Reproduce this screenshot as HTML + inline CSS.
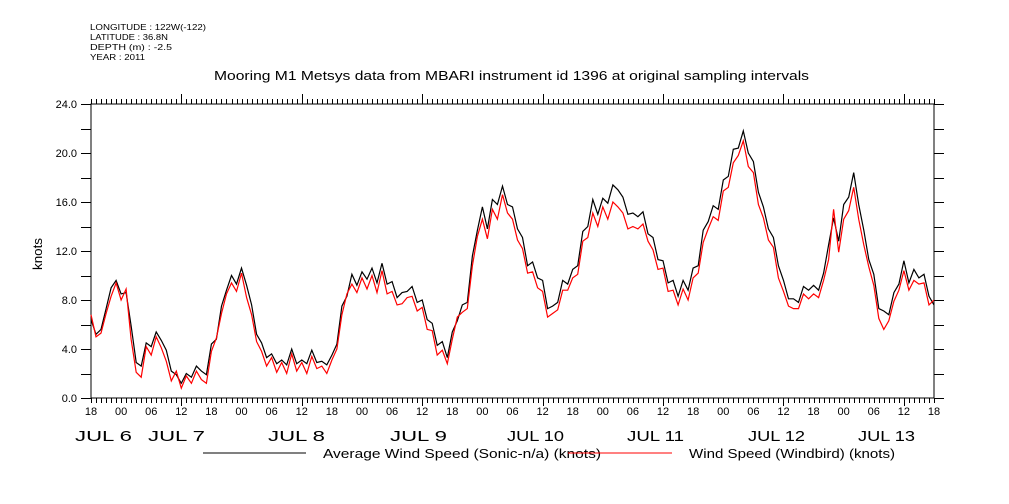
<!DOCTYPE html>
<html><head><meta charset="utf-8"><style>
html,body{margin:0;padding:0;background:#fff;}
svg{display:block;font-family:"Liberation Sans",sans-serif;}
</style></head><body>
<svg id="chart" width="1009" height="504" viewBox="0 0 1009 504" xmlns="http://www.w3.org/2000/svg">
<g font-size="8.5" fill="#000">
<text x="90" y="30" textLength="116" lengthAdjust="spacingAndGlyphs">LONGITUDE : 122W(-122)</text>
<text x="90" y="40" textLength="78" lengthAdjust="spacingAndGlyphs">LATITUDE : 36.8N</text>
<text x="90" y="50" textLength="82" lengthAdjust="spacingAndGlyphs">DEPTH (m) : -2.5</text>
<text x="90" y="60" textLength="55" lengthAdjust="spacingAndGlyphs">YEAR : 2011</text>
</g>
<text x="214" y="80" font-size="13" textLength="595" lengthAdjust="spacingAndGlyphs">Mooring M1 Metsys data from MBARI instrument id 1396 at original sampling intervals</text>
<text x="0" y="0" font-size="13" transform="translate(42,270) rotate(-90)" textLength="32" lengthAdjust="spacingAndGlyphs">knots</text>
<g id="axes"></g>
<g id="series"></g>
<g>
<line x1="203" y1="453" x2="306" y2="453" stroke="#000" stroke-width="1"/>
<text x="323" y="458" font-size="13" textLength="278" lengthAdjust="spacingAndGlyphs">Average Wind Speed (Sonic-n/a) (knots)</text>
<line x1="568" y1="453" x2="672" y2="453" stroke="#f00" stroke-width="1"/>
<text x="689" y="458" font-size="13" textLength="206" lengthAdjust="spacingAndGlyphs">Wind Speed (Windbird) (knots)</text>
</g>
</svg>
<script>
const hourLabels = ["18","00","06","12","18","00","06","12","18","00","06","12","18","00","06","12","18","00","06","12","18","00","06","12","18","00","06","12","18"];
const dayLabels = ["JUL  6","JUL  7","JUL  8","JUL  9","JUL 10","JUL 11","JUL 12","JUL 13"];
const dayLabelX = [75,148,268,390,507,627,748,858];
const yTicks = [0,4,8,12,16,20,24];
const avgSpeed = [6.4,5.2,5.6,7.3,9.0,9.6,8.5,8.6,5.9,2.9,
2.6,4.5,4.2,5.4,4.7,3.9,2.2,1.9,1.2,2.0,
1.7,2.6,2.2,1.9,4.4,4.8,7.5,8.8,10.0,9.3,
10.6,9.2,7.6,5.2,4.5,3.3,3.6,2.8,3.1,2.7,
4.0,2.8,3.1,2.8,3.9,2.9,3.0,2.7,3.5,4.4,
7.5,8.3,10.1,9.2,10.3,9.7,10.6,9.4,11.0,9.3,
9.5,8.2,8.6,8.7,9.1,7.8,8.0,6.4,6.1,4.3,
4.6,3.3,5.4,6.3,7.6,7.8,11.6,13.7,15.6,13.8,
16.2,15.8,17.3,15.8,15.6,13.8,13.1,10.8,11.1,9.8,
9.6,7.3,7.5,7.8,9.6,9.3,10.5,10.8,13.6,14.0,
16.2,15.0,16.3,15.9,17.4,17.0,16.4,15.0,15.1,14.8,
15.2,13.4,13.1,11.3,11.2,9.4,9.6,8.3,9.6,8.8,
10.6,10.8,13.7,14.4,15.7,15.4,17.8,18.1,20.3,20.4,
21.8,20.0,19.3,16.8,15.6,13.8,13.1,10.8,9.6,8.1,
8.1,7.8,9.1,8.8,9.2,8.8,10.2,12.5,14.7,12.8,
15.8,16.4,18.4,15.8,13.7,11.3,10.1,7.3,7.1,6.8,
8.6,9.3,11.2,9.4,10.5,9.8,10.1,8.3,7.6];
const windbirdSpeed = [6.8,5.0,5.3,6.9,8.3,9.4,8.0,8.9,4.8,2.1,
1.7,4.2,3.5,5.0,4.1,3.0,1.4,2.2,0.8,1.8,
1.2,2.2,1.5,1.2,3.8,4.9,6.9,8.5,9.4,8.7,
10.2,8.2,6.8,4.6,3.8,2.6,3.3,2.1,2.9,2.0,
3.6,2.2,2.9,2.0,3.4,2.4,2.6,2.0,3.1,4.0,
6.8,8.5,9.3,8.6,9.8,8.9,10.0,8.6,10.4,8.5,
8.7,7.6,7.7,8.2,8.3,7.1,7.4,5.6,5.5,3.5,
3.9,2.8,4.8,6.6,7.0,7.3,10.8,13.2,14.6,13.0,
15.4,14.6,16.6,15.1,14.6,12.9,12.2,10.2,10.3,9.0,
8.7,6.6,6.9,7.2,8.8,8.8,9.8,10.1,12.8,13.1,
15.1,14.0,15.6,14.6,16.0,15.6,15.1,13.8,14.0,13.8,
14.2,12.8,12.1,10.5,10.6,8.7,8.8,7.6,8.9,8.0,
9.8,10.2,12.7,13.8,14.8,14.5,16.9,17.2,19.2,19.8,
21.0,18.9,18.4,15.8,14.7,12.9,12.3,9.8,8.7,7.5,
7.3,7.3,8.5,8.1,8.5,8.2,9.6,11.3,15.4,11.9,
14.6,15.3,17.2,14.6,12.5,10.7,9.2,6.5,5.6,6.3,
7.9,8.8,10.4,8.8,9.6,9.3,9.4,7.6,8.0];

const NS = "http://www.w3.org/2000/svg";
const L = 91, R = 934, T = 104, B = 398, HOURS = 168, YMAX = 24;
function xScale(h){ return L + (R - L) * h / HOURS; }
function yScale(v){ return B - (B - T) * v / YMAX; }
function mk(tag, attrs, parent){ const e = document.createElementNS(NS, tag); for (const k in attrs) e.setAttribute(k, attrs[k]); parent.appendChild(e); return e; }

const axes = document.getElementById('axes');
const frame = mk('rect', {x:L, y:T, width:R-L, height:B-T, fill:'none', stroke:'#000', 'stroke-width':1}, axes);


let d = '';
for (let h = 0; h <= HOURS; h++) {
  const x = Math.round(xScale(h)) + 0.5;
  const isDay = ((h + 6) % 24) === 0;
  d += `M${x},${B}V${B + (isDay ? 8 : 5)}M${x},${T}V${T - (isDay ? 10 : 5)}`;
}
for (let v = 0; v <= YMAX; v += 2) {
  const y = Math.round(yScale(v)) + 0.5;
  d += `M${L},${y}H${L - 10}M${R},${y}H${R + 10}`;
}
const ticks = mk('path', {d:d, stroke:'#000', 'stroke-width':1, fill:'none'}, axes);


hourLabels.forEach((lab, i) => {
  const t = mk('text', {x:xScale(i*6), y:415, 'font-size':11, 'text-anchor':'middle'}, axes);
  t.textContent = lab;
  
  
});
dayLabels.forEach((lab, i) => {
  const t = mk('text', {x:dayLabelX[i], y:441, 'font-size':15, 'xml:space':'preserve', textLength:57, lengthAdjust:'spacingAndGlyphs'}, axes);
  t.textContent = lab;
  
  
});
yTicks.forEach(v => {
  const t = mk('text', {x:77, y:yScale(v)+4, 'font-size':11, 'text-anchor':'end'}, axes);
  t.textContent = v.toFixed(1);
  
  
});

const series = document.getElementById('series');
function drawLine(vals, color, name){
  const pts = vals.map((v, i) => xScale(i).toFixed(1) + ',' + yScale(v).toFixed(1)).join(' ');
  const p = mk('polyline', {points:pts, fill:'none', stroke:color, 'stroke-width':1.2, 'stroke-linejoin':'miter'}, series);
  
  
}
drawLine(avgSpeed, '#000', 'average-wind-speed-line');
drawLine(windbirdSpeed, '#f00', 'windbird-wind-speed-line');
</script>
</body></html>
